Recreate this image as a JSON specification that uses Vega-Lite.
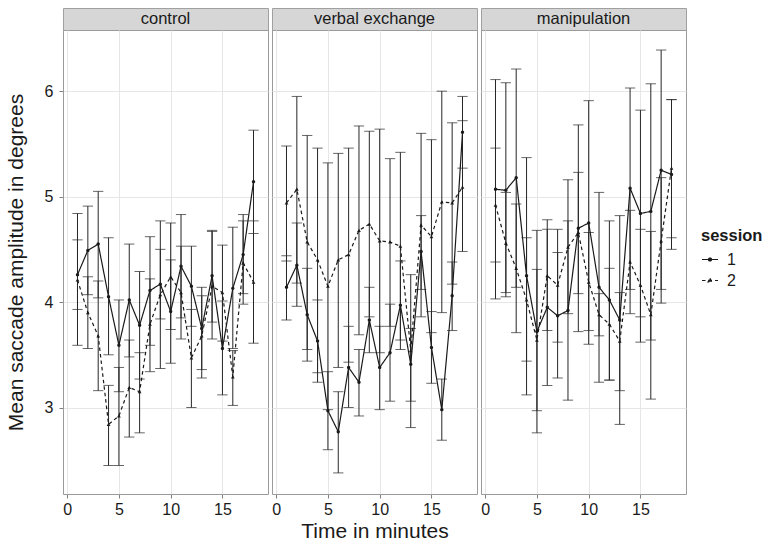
{
  "$schema": "https://vega.github.io/schema/vega-lite/v6.json",
  "padding": {"left": 4, "top": 7, "right": 0, "bottom": 0},
  "datasets": {
    "panels": [
      {"panel": "control"},
      {"panel": "verbal exchange"},
      {"panel": "manipulation"}
    ],
    "saccade": [
      {"panel": "control", "session": "1", "minute": 1, "mean": 4.26, "lo": 3.93, "hi": 4.59},
      {"panel": "control", "session": "1", "minute": 2, "mean": 4.49, "lo": 4.07, "hi": 4.91},
      {"panel": "control", "session": "1", "minute": 3, "mean": 4.55, "lo": 4.04, "hi": 5.05},
      {"panel": "control", "session": "1", "minute": 4, "mean": 4.05, "lo": 3.50, "hi": 4.61},
      {"panel": "control", "session": "1", "minute": 5, "mean": 3.59, "lo": 3.15, "hi": 4.02},
      {"panel": "control", "session": "1", "minute": 6, "mean": 4.02, "lo": 3.48, "hi": 4.55},
      {"panel": "control", "session": "1", "minute": 7, "mean": 3.78, "lo": 3.27, "hi": 4.29},
      {"panel": "control", "session": "1", "minute": 8, "mean": 4.11, "lo": 3.59, "hi": 4.62},
      {"panel": "control", "session": "1", "minute": 9, "mean": 4.17, "lo": 3.84, "hi": 4.50},
      {"panel": "control", "session": "1", "minute": 10, "mean": 3.91, "lo": 3.42, "hi": 4.40},
      {"panel": "control", "session": "1", "minute": 11, "mean": 4.34, "lo": 3.85, "hi": 4.83},
      {"panel": "control", "session": "1", "minute": 12, "mean": 4.15, "lo": 3.77, "hi": 4.53},
      {"panel": "control", "session": "1", "minute": 13, "mean": 3.75, "lo": 3.36, "hi": 4.14},
      {"panel": "control", "session": "1", "minute": 14, "mean": 4.25, "lo": 3.81, "hi": 4.68},
      {"panel": "control", "session": "1", "minute": 15, "mean": 3.56, "lo": 3.12, "hi": 4.01},
      {"panel": "control", "session": "1", "minute": 16, "mean": 4.13, "lo": 3.56, "hi": 4.71},
      {"panel": "control", "session": "1", "minute": 17, "mean": 4.45, "lo": 4.08, "hi": 4.83},
      {"panel": "control", "session": "1", "minute": 18, "mean": 5.14, "lo": 4.65, "hi": 5.63},
      {"panel": "control", "session": "2", "minute": 1, "mean": 4.21, "lo": 3.59, "hi": 4.84},
      {"panel": "control", "session": "2", "minute": 2, "mean": 3.90, "lo": 3.56, "hi": 4.24},
      {"panel": "control", "session": "2", "minute": 3, "mean": 3.68, "lo": 3.16, "hi": 4.20},
      {"panel": "control", "session": "2", "minute": 4, "mean": 2.84, "lo": 2.45, "hi": 3.21},
      {"panel": "control", "session": "2", "minute": 5, "mean": 2.92, "lo": 2.45, "hi": 3.38},
      {"panel": "control", "session": "2", "minute": 6, "mean": 3.19, "lo": 2.72, "hi": 3.64},
      {"panel": "control", "session": "2", "minute": 7, "mean": 3.15, "lo": 2.76, "hi": 3.52},
      {"panel": "control", "session": "2", "minute": 8, "mean": 3.79, "lo": 3.34, "hi": 4.22},
      {"panel": "control", "session": "2", "minute": 9, "mean": 4.07, "lo": 3.37, "hi": 4.77},
      {"panel": "control", "session": "2", "minute": 10, "mean": 4.24, "lo": 3.74, "hi": 4.75},
      {"panel": "control", "session": "2", "minute": 11, "mean": 4.09, "lo": 3.65, "hi": 4.53},
      {"panel": "control", "session": "2", "minute": 12, "mean": 3.47, "lo": 3.00, "hi": 3.93},
      {"panel": "control", "session": "2", "minute": 13, "mean": 3.68, "lo": 3.28, "hi": 4.06},
      {"panel": "control", "session": "2", "minute": 14, "mean": 4.15, "lo": 3.65, "hi": 4.67},
      {"panel": "control", "session": "2", "minute": 15, "mean": 4.09, "lo": 3.63, "hi": 4.54},
      {"panel": "control", "session": "2", "minute": 16, "mean": 3.29, "lo": 3.02, "hi": 3.54},
      {"panel": "control", "session": "2", "minute": 17, "mean": 4.37, "lo": 3.98, "hi": 4.77},
      {"panel": "control", "session": "2", "minute": 18, "mean": 4.19, "lo": 3.61, "hi": 4.77},
      {"panel": "verbal exchange", "session": "1", "minute": 1, "mean": 4.14, "lo": 3.83, "hi": 4.44},
      {"panel": "verbal exchange", "session": "1", "minute": 2, "mean": 4.35, "lo": 3.96, "hi": 4.75},
      {"panel": "verbal exchange", "session": "1", "minute": 3, "mean": 3.88, "lo": 3.44, "hi": 4.32},
      {"panel": "verbal exchange", "session": "1", "minute": 4, "mean": 3.63, "lo": 3.24, "hi": 4.02},
      {"panel": "verbal exchange", "session": "1", "minute": 5, "mean": 2.97, "lo": 2.60, "hi": 3.34},
      {"panel": "verbal exchange", "session": "1", "minute": 6, "mean": 2.77, "lo": 2.38, "hi": 3.15},
      {"panel": "verbal exchange", "session": "1", "minute": 7, "mean": 3.38, "lo": 3.00, "hi": 3.77},
      {"panel": "verbal exchange", "session": "1", "minute": 8, "mean": 3.24, "lo": 2.92, "hi": 3.55},
      {"panel": "verbal exchange", "session": "1", "minute": 9, "mean": 3.83, "lo": 3.52, "hi": 4.14},
      {"panel": "verbal exchange", "session": "1", "minute": 10, "mean": 3.38, "lo": 2.98, "hi": 3.77},
      {"panel": "verbal exchange", "session": "1", "minute": 11, "mean": 3.52, "lo": 3.06, "hi": 3.98},
      {"panel": "verbal exchange", "session": "1", "minute": 12, "mean": 3.97, "lo": 3.55, "hi": 4.39},
      {"panel": "verbal exchange", "session": "1", "minute": 13, "mean": 3.41, "lo": 3.06, "hi": 3.75},
      {"panel": "verbal exchange", "session": "1", "minute": 14, "mean": 4.48, "lo": 4.12, "hi": 4.82},
      {"panel": "verbal exchange", "session": "1", "minute": 15, "mean": 3.57, "lo": 3.23, "hi": 3.91},
      {"panel": "verbal exchange", "session": "1", "minute": 16, "mean": 2.98, "lo": 2.69, "hi": 3.27},
      {"panel": "verbal exchange", "session": "1", "minute": 17, "mean": 4.06, "lo": 3.73, "hi": 4.38},
      {"panel": "verbal exchange", "session": "1", "minute": 18, "mean": 5.61, "lo": 5.27, "hi": 5.95},
      {"panel": "verbal exchange", "session": "2", "minute": 1, "mean": 4.94, "lo": 4.39, "hi": 5.48},
      {"panel": "verbal exchange", "session": "2", "minute": 2, "mean": 5.07, "lo": 4.18, "hi": 5.95},
      {"panel": "verbal exchange", "session": "2", "minute": 3, "mean": 4.57, "lo": 3.55, "hi": 5.58},
      {"panel": "verbal exchange", "session": "2", "minute": 4, "mean": 4.40, "lo": 3.33, "hi": 5.46},
      {"panel": "verbal exchange", "session": "2", "minute": 5, "mean": 4.15, "lo": 2.98, "hi": 5.32},
      {"panel": "verbal exchange", "session": "2", "minute": 6, "mean": 4.40, "lo": 3.38, "hi": 5.41},
      {"panel": "verbal exchange", "session": "2", "minute": 7, "mean": 4.45, "lo": 3.43, "hi": 5.46},
      {"panel": "verbal exchange", "session": "2", "minute": 8, "mean": 4.68, "lo": 3.69, "hi": 5.67},
      {"panel": "verbal exchange", "session": "2", "minute": 9, "mean": 4.74, "lo": 3.86, "hi": 5.62},
      {"panel": "verbal exchange", "session": "2", "minute": 10, "mean": 4.58, "lo": 3.52, "hi": 5.64},
      {"panel": "verbal exchange", "session": "2", "minute": 11, "mean": 4.57, "lo": 3.77, "hi": 5.36},
      {"panel": "verbal exchange", "session": "2", "minute": 12, "mean": 4.53, "lo": 3.64, "hi": 5.42},
      {"panel": "verbal exchange", "session": "2", "minute": 13, "mean": 3.54, "lo": 2.81, "hi": 4.26},
      {"panel": "verbal exchange", "session": "2", "minute": 14, "mean": 4.73, "lo": 3.86, "hi": 5.60},
      {"panel": "verbal exchange", "session": "2", "minute": 15, "mean": 4.62, "lo": 3.71, "hi": 5.54},
      {"panel": "verbal exchange", "session": "2", "minute": 16, "mean": 4.95, "lo": 3.90, "hi": 6.00},
      {"panel": "verbal exchange", "session": "2", "minute": 17, "mean": 4.94, "lo": 4.17, "hi": 5.70},
      {"panel": "verbal exchange", "session": "2", "minute": 18, "mean": 5.09, "lo": 4.48, "hi": 5.72},
      {"panel": "manipulation", "session": "1", "minute": 1, "mean": 5.07, "lo": 4.03, "hi": 6.11},
      {"panel": "manipulation", "session": "1", "minute": 2, "mean": 5.06, "lo": 4.05, "hi": 6.08},
      {"panel": "manipulation", "session": "1", "minute": 3, "mean": 5.18, "lo": 4.14, "hi": 6.21},
      {"panel": "manipulation", "session": "1", "minute": 4, "mean": 4.25, "lo": 3.12, "hi": 5.37},
      {"panel": "manipulation", "session": "1", "minute": 5, "mean": 3.72, "lo": 2.76, "hi": 4.68},
      {"panel": "manipulation", "session": "1", "minute": 6, "mean": 3.95, "lo": 3.21, "hi": 4.69},
      {"panel": "manipulation", "session": "1", "minute": 7, "mean": 3.87, "lo": 3.28, "hi": 4.47},
      {"panel": "manipulation", "session": "1", "minute": 8, "mean": 3.92, "lo": 3.07, "hi": 4.77},
      {"panel": "manipulation", "session": "1", "minute": 9, "mean": 4.70, "lo": 3.72, "hi": 5.68},
      {"panel": "manipulation", "session": "1", "minute": 10, "mean": 4.75, "lo": 3.60, "hi": 5.91},
      {"panel": "manipulation", "session": "1", "minute": 11, "mean": 4.14, "lo": 3.24, "hi": 5.04},
      {"panel": "manipulation", "session": "1", "minute": 12, "mean": 4.02, "lo": 3.26, "hi": 4.77},
      {"panel": "manipulation", "session": "1", "minute": 13, "mean": 3.83, "lo": 2.84, "hi": 4.82},
      {"panel": "manipulation", "session": "1", "minute": 14, "mean": 5.08, "lo": 4.12, "hi": 6.03},
      {"panel": "manipulation", "session": "1", "minute": 15, "mean": 4.84, "lo": 3.86, "hi": 5.82},
      {"panel": "manipulation", "session": "1", "minute": 16, "mean": 4.86, "lo": 3.64, "hi": 6.07},
      {"panel": "manipulation", "session": "1", "minute": 17, "mean": 5.25, "lo": 4.12, "hi": 6.39},
      {"panel": "manipulation", "session": "1", "minute": 18, "mean": 5.21, "lo": 4.50, "hi": 5.92},
      {"panel": "manipulation", "session": "2", "minute": 1, "mean": 4.92, "lo": 4.38, "hi": 5.46},
      {"panel": "manipulation", "session": "2", "minute": 2, "mean": 4.56, "lo": 4.09, "hi": 5.04},
      {"panel": "manipulation", "session": "2", "minute": 3, "mean": 4.32, "lo": 3.71, "hi": 4.93},
      {"panel": "manipulation", "session": "2", "minute": 4, "mean": 4.02, "lo": 3.44, "hi": 4.61},
      {"panel": "manipulation", "session": "2", "minute": 5, "mean": 3.64, "lo": 2.97, "hi": 4.31},
      {"panel": "manipulation", "session": "2", "minute": 6, "mean": 4.25, "lo": 3.73, "hi": 4.78},
      {"panel": "manipulation", "session": "2", "minute": 7, "mean": 4.16, "lo": 3.62, "hi": 4.69},
      {"panel": "manipulation", "session": "2", "minute": 8, "mean": 4.52, "lo": 3.89, "hi": 5.16},
      {"panel": "manipulation", "session": "2", "minute": 9, "mean": 4.66, "lo": 4.08, "hi": 5.23},
      {"panel": "manipulation", "session": "2", "minute": 10, "mean": 4.19, "lo": 3.73, "hi": 4.66},
      {"panel": "manipulation", "session": "2", "minute": 11, "mean": 3.88, "lo": 3.68, "hi": 4.08},
      {"panel": "manipulation", "session": "2", "minute": 12, "mean": 3.79, "lo": 3.26, "hi": 4.32},
      {"panel": "manipulation", "session": "2", "minute": 13, "mean": 3.63, "lo": 3.16, "hi": 4.09},
      {"panel": "manipulation", "session": "2", "minute": 14, "mean": 4.38, "lo": 3.89, "hi": 4.87},
      {"panel": "manipulation", "session": "2", "minute": 15, "mean": 4.16, "lo": 3.62, "hi": 4.69},
      {"panel": "manipulation", "session": "2", "minute": 16, "mean": 3.88, "lo": 3.08, "hi": 4.67},
      {"panel": "manipulation", "session": "2", "minute": 17, "mean": 4.58, "lo": 3.99, "hi": 5.18},
      {"panel": "manipulation", "session": "2", "minute": 18, "mean": 5.27, "lo": 4.61, "hi": 5.92}
    ]
  },
  "config": {
    "font": "Liberation Sans",
    "view": {"stroke": "#9a9a9a", "strokeWidth": 1},
    "axis": {
      "grid": true,
      "gridWidth": 1,
      "domain": false,
      "tickColor": "#7f7f7f",
      "tickSize": 4,
      "labelFont": "Liberation Sans",
      "labelFontSize": 16,
      "labelColor": "#1a1a1a",
      "labelOverlap": false,
      "titleFont": "Liberation Sans",
      "titleFontSize": 21,
      "titleFontWeight": "normal",
      "titleColor": "#1a1a1a"
    },
    "axisX": {"labelPadding": 3, "titlePadding": 3},
    "axisY": {"labelPadding": 6, "titlePadding": 18}
  },
  "columns": 3,
  "bounds": "flush",
  "spacing": {"row": 0, "column": 4},
  "concat": [
    {
      "data": {"name": "panels"},
      "transform": [{"filter": "datum.panel === 'control'"}],
      "width": 205,
      "height": 22,
      "view": {"fill": "#d6d6d6", "stroke": "#a0a0a0"},
      "mark": {"type": "text", "fontSize": 16.5, "color": "#1a1a1a", "baseline": "middle", "align": "center"},
      "encoding": {"text": {"field": "panel"}}
    },
    {
      "data": {"name": "panels"},
      "transform": [{"filter": "datum.panel === 'verbal exchange'"}],
      "width": 205,
      "height": 22,
      "view": {"fill": "#d6d6d6", "stroke": "#a0a0a0"},
      "mark": {"type": "text", "fontSize": 16.5, "color": "#1a1a1a", "baseline": "middle", "align": "center"},
      "encoding": {"text": {"field": "panel"}}
    },
    {
      "data": {"name": "panels"},
      "transform": [{"filter": "datum.panel === 'manipulation'"}],
      "width": 205,
      "height": 22,
      "view": {"fill": "#d6d6d6", "stroke": "#a0a0a0"},
      "mark": {"type": "text", "fontSize": 16.5, "color": "#1a1a1a", "baseline": "middle", "align": "center"},
      "encoding": {"text": {"field": "panel"}}
    },
    {
      "data": {"name": "saccade"},
      "transform": [{"filter": "datum.panel === 'control'"}],
      "width": 205,
      "height": 464,
      "resolve": {"axis": {"x": "independent", "y": "independent"}},
      "layer": [
        {
          "mark": {"type": "rule", "color": "#262626", "strokeWidth": 1},
          "encoding": {
            "x": {"field": "minute", "type": "quantitative", "scale": {"domain": [-0.4, 19.4], "nice": false, "zero": false}, "axis": {"orient": "bottom", "values": [0, 5, 10, 15], "title": null, "gridColor": "#e6e6e6"}},
            "y": {"field": "lo", "type": "quantitative", "scale": {"domain": [2.18, 6.58], "nice": false, "zero": false}, "axis": {"orient": "left", "values": [3, 4, 5, 6], "title": "Mean saccade amplitude in degrees", "gridColor": "#e6e6e6"}},
            "y2": {"field": "hi"}
          }
        },
        {
          "mark": {"type": "tick", "orient": "horizontal", "size": 10.3, "thickness": 1, "color": "#262626"},
          "encoding": {
            "x": {"field": "minute", "type": "quantitative", "axis": {"orient": "top", "values": [2.5, 7.5, 12.5, 17.5], "labels": false, "ticks": false, "title": null, "gridColor": "#f4f4f4"}},
            "y": {"field": "lo", "type": "quantitative", "axis": {"orient": "right", "values": [2.5, 3.5, 4.5, 5.5, 6.5], "labels": false, "ticks": false, "title": null, "gridColor": "#f4f4f4"}}
          }
        },
        {
          "mark": {"type": "tick", "orient": "horizontal", "size": 10.3, "thickness": 1, "color": "#262626"},
          "encoding": {
            "x": {"field": "minute", "type": "quantitative", "axis": null},
            "y": {"field": "hi", "type": "quantitative", "axis": null}
          }
        },
        {
          "mark": {"type": "line", "color": "#1a1a1a", "strokeWidth": 1.2},
          "encoding": {
            "x": {"field": "minute", "type": "quantitative", "axis": null},
            "y": {"field": "mean", "type": "quantitative", "axis": null},
            "strokeDash": {
              "field": "session", "type": "nominal",
              "scale": {"domain": ["1", "2"], "range": [[1, 0], [3.5, 3]]},
              "legend": {
                "title": "session",
                "orient": "none",
                "legendX": 638,
                "legendY": 220,
                "padding": 0,
                "titleFont": "Liberation Sans",
                "titleFontSize": 16.5,
                "titleFontWeight": "bold",
                "titleColor": "#1a1a1a",
                "titlePadding": 6,
                "labelFont": "Liberation Sans",
                "labelFontSize": 16,
                "labelColor": "#1a1a1a",
                "labelOffset": 8,
                "rowPadding": 4,
                "symbolSize": 256,
                "symbolStrokeWidth": 1.2,
                "symbolStrokeColor": "#1a1a1a",
                "symbolFillColor": "#1a1a1a",
                "encode": {
                  "symbols": {
                    "update": {
                      "shape": {"signal": "datum.value === '1' ? 'M-1,0H1M-0.19,0A0.19,0.19,0,1,1,0.19,0A0.19,0.19,0,1,1,-0.19,0Z' : 'M-1,0H1M0,-0.26L0.24,0.16L-0.24,0.16Z'"},
                      "fill": {"value": "#1a1a1a"},
                      "stroke": {"value": "#1a1a1a"}
                    }
                  }
                }
              }
            }
          }
        },
        {
          "transform": [{"filter": "datum.session === '1'"}],
          "mark": {"type": "point", "shape": "circle", "filled": true, "color": "#1a1a1a", "size": 12, "opacity": 1},
          "encoding": {
            "x": {"field": "minute", "type": "quantitative", "axis": null},
            "y": {"field": "mean", "type": "quantitative", "axis": null}
          }
        },
        {
          "transform": [{"filter": "datum.session === '2'"}],
          "mark": {"type": "point", "shape": "triangle-up", "filled": true, "color": "#1a1a1a", "size": 14, "opacity": 1},
          "encoding": {
            "x": {"field": "minute", "type": "quantitative", "axis": null},
            "y": {"field": "mean", "type": "quantitative", "axis": null}
          }
        }
      ]
    },
    {
      "data": {"name": "saccade"},
      "transform": [{"filter": "datum.panel === 'verbal exchange'"}],
      "width": 205,
      "height": 464,
      "resolve": {"axis": {"x": "independent", "y": "independent"}},
      "layer": [
        {
          "mark": {"type": "rule", "color": "#262626", "strokeWidth": 1},
          "encoding": {
            "x": {"field": "minute", "type": "quantitative", "scale": {"domain": [-0.4, 19.4], "nice": false, "zero": false}, "axis": {"orient": "bottom", "values": [0, 5, 10, 15], "title": "Time in minutes", "gridColor": "#e6e6e6"}},
            "y": {"field": "lo", "type": "quantitative", "scale": {"domain": [2.18, 6.58], "nice": false, "zero": false}, "axis": {"orient": "left", "values": [3, 4, 5, 6], "labels": false, "ticks": false, "title": null, "gridColor": "#e6e6e6"}},
            "y2": {"field": "hi"}
          }
        },
        {
          "mark": {"type": "tick", "orient": "horizontal", "size": 10.3, "thickness": 1, "color": "#262626"},
          "encoding": {
            "x": {"field": "minute", "type": "quantitative", "axis": {"orient": "top", "values": [2.5, 7.5, 12.5, 17.5], "labels": false, "ticks": false, "title": null, "gridColor": "#f4f4f4"}},
            "y": {"field": "lo", "type": "quantitative", "axis": {"orient": "right", "values": [2.5, 3.5, 4.5, 5.5, 6.5], "labels": false, "ticks": false, "title": null, "gridColor": "#f4f4f4"}}
          }
        },
        {
          "mark": {"type": "tick", "orient": "horizontal", "size": 10.3, "thickness": 1, "color": "#262626"},
          "encoding": {
            "x": {"field": "minute", "type": "quantitative", "axis": null},
            "y": {"field": "hi", "type": "quantitative", "axis": null}
          }
        },
        {
          "mark": {"type": "line", "color": "#1a1a1a", "strokeWidth": 1.2},
          "encoding": {
            "x": {"field": "minute", "type": "quantitative", "axis": null},
            "y": {"field": "mean", "type": "quantitative", "axis": null},
            "strokeDash": {"field": "session", "type": "nominal", "scale": {"domain": ["1", "2"], "range": [[1, 0], [3.5, 3]]}}
          }
        },
        {
          "transform": [{"filter": "datum.session === '1'"}],
          "mark": {"type": "point", "shape": "circle", "filled": true, "color": "#1a1a1a", "size": 12, "opacity": 1},
          "encoding": {
            "x": {"field": "minute", "type": "quantitative", "axis": null},
            "y": {"field": "mean", "type": "quantitative", "axis": null}
          }
        },
        {
          "transform": [{"filter": "datum.session === '2'"}],
          "mark": {"type": "point", "shape": "triangle-up", "filled": true, "color": "#1a1a1a", "size": 14, "opacity": 1},
          "encoding": {
            "x": {"field": "minute", "type": "quantitative", "axis": null},
            "y": {"field": "mean", "type": "quantitative", "axis": null}
          }
        }
      ]
    },
    {
      "data": {"name": "saccade"},
      "transform": [{"filter": "datum.panel === 'manipulation'"}],
      "width": 205,
      "height": 464,
      "resolve": {"axis": {"x": "independent", "y": "independent"}},
      "layer": [
        {
          "mark": {"type": "rule", "color": "#262626", "strokeWidth": 1},
          "encoding": {
            "x": {"field": "minute", "type": "quantitative", "scale": {"domain": [-0.4, 19.4], "nice": false, "zero": false}, "axis": {"orient": "bottom", "values": [0, 5, 10, 15], "title": null, "gridColor": "#e6e6e6"}},
            "y": {"field": "lo", "type": "quantitative", "scale": {"domain": [2.18, 6.58], "nice": false, "zero": false}, "axis": {"orient": "left", "values": [3, 4, 5, 6], "labels": false, "ticks": false, "title": null, "gridColor": "#e6e6e6"}},
            "y2": {"field": "hi"}
          }
        },
        {
          "mark": {"type": "tick", "orient": "horizontal", "size": 10.3, "thickness": 1, "color": "#262626"},
          "encoding": {
            "x": {"field": "minute", "type": "quantitative", "axis": {"orient": "top", "values": [2.5, 7.5, 12.5, 17.5], "labels": false, "ticks": false, "title": null, "gridColor": "#f4f4f4"}},
            "y": {"field": "lo", "type": "quantitative", "axis": {"orient": "right", "values": [2.5, 3.5, 4.5, 5.5, 6.5], "labels": false, "ticks": false, "title": null, "gridColor": "#f4f4f4"}}
          }
        },
        {
          "mark": {"type": "tick", "orient": "horizontal", "size": 10.3, "thickness": 1, "color": "#262626"},
          "encoding": {
            "x": {"field": "minute", "type": "quantitative", "axis": null},
            "y": {"field": "hi", "type": "quantitative", "axis": null}
          }
        },
        {
          "mark": {"type": "line", "color": "#1a1a1a", "strokeWidth": 1.2},
          "encoding": {
            "x": {"field": "minute", "type": "quantitative", "axis": null},
            "y": {"field": "mean", "type": "quantitative", "axis": null},
            "strokeDash": {"field": "session", "type": "nominal", "scale": {"domain": ["1", "2"], "range": [[1, 0], [3.5, 3]]}}
          }
        },
        {
          "transform": [{"filter": "datum.session === '1'"}],
          "mark": {"type": "point", "shape": "circle", "filled": true, "color": "#1a1a1a", "size": 12, "opacity": 1},
          "encoding": {
            "x": {"field": "minute", "type": "quantitative", "axis": null},
            "y": {"field": "mean", "type": "quantitative", "axis": null}
          }
        },
        {
          "transform": [{"filter": "datum.session === '2'"}],
          "mark": {"type": "point", "shape": "triangle-up", "filled": true, "color": "#1a1a1a", "size": 14, "opacity": 1},
          "encoding": {
            "x": {"field": "minute", "type": "quantitative", "axis": null},
            "y": {"field": "mean", "type": "quantitative", "axis": null}
          }
        }
      ]
    }
  ]
}
